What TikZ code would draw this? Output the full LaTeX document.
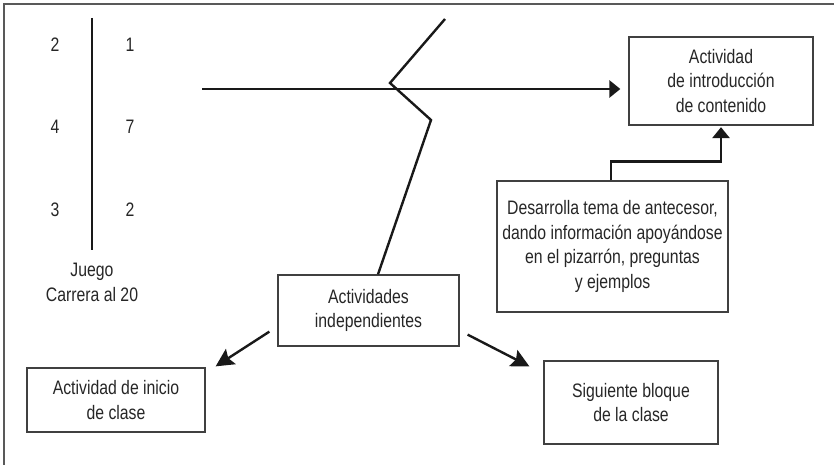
\documentclass[tikz,border=0pt]{standalone}
\usepackage{fontspec}
\setmainfont[FakeStretch=0.81]{Liberation Sans}
\usepackage{tikz}
\usetikzlibrary{positioning,calc}
\usetikzlibrary{arrows.meta}

\tikzset{
  txt/.style={font=\fontsize{19.5}{24.5}\selectfont, text=black!85, align=center},
  box/.style={txt, draw=black!75, line width=1.3pt, inner sep=0pt},
  heavy/.style={line width=2.8pt, draw=black!90},
  tip/.style={-{Triangle[length=11pt,width=17pt]}},
  slant/.style={-{Stealth[length=18pt,width=18pt,inset=3pt]}},
}

\begin{document}
\begin{tikzpicture}[x=1pt,y=-1pt]
  % Parameters
  \def\W{834}       % page width
  \def\H{465}       % page height
  \def\bx{92}       % x of the bar of the game
  \def\lx{55}       % left column of numbers
  \def\rx{130}      % right column of numbers

  \useasboundingbox (0,0) rectangle (\W,\H);

  % Frame (top and left only)
  \draw[black!65, line width=1.5pt] (\W,4) -- (4,4) -- (4,\H);

  % Game: Carrera al 20
  \coordinate (bartop) at (\bx,18);
  \coordinate (barbot) at (\bx,250);
  \draw[heavy] (bartop) -- (barbot);
  \node[txt] (a1) at (\lx,45)  {2};
  \node[txt] (a2) at (\lx,127) {4};
  \node[txt] (a3) at (\lx,210) {3};
  \node[txt] (b1) at (\rx,45)  {1};
  \node[txt] (b2) at (\rx,127) {7};
  \node[txt] (b3) at (\rx,210) {2};
  \node[txt] (juego) at (\bx,282.5) {Juego\\Carrera al 20};

  % Boxes
  \node[box, minimum width=184pt, minimum height=88pt] (intro) at (721,81)
    {Actividad\\de introducción\\de contenido};
  \node[box, minimum width=231pt, minimum height=131pt] (desarrolla) at (612.5,246.5)
    {Desarrolla tema de antecesor,\\dando información apoyándose\\en el pizarrón, preguntas\\y ejemplos};
  \node[box, minimum width=181pt, minimum height=71pt] (indep) at (368.5,310.5)
    {Actividades\\independientes};
  \node[box, minimum width=178pt, minimum height=64pt] (inicio) at (116,400)
    {Actividad de inicio\\de clase};
  \node[box, minimum width=174pt, minimum height=83pt] (siguiente) at (631,402.5)
    {Siguiente bloque\\de la clase};

  % Long arrow to the introduction
  \coordinate (hstart) at (202,89);
  \draw[heavy, tip, shorten >=8pt] (hstart) -- (hstart -| intro.west);

  % Zigzag line
  \coordinate (z1) at (445,19);
  \coordinate (z2) at (390,83);
  \coordinate (z3) at (431,120);
  \draw[line width=2.4pt, black!90] (z1) -- (z2) -- (z3) -- ([xshift=9.5pt]indep.north);

  % From the development box up to the introduction
  \draw[heavy, tip, shorten >=1.5pt]
    ([xshift=-1.5pt]desarrolla.north) -- ++(0,-19) -| (intro.south);

  % Diagonal arrows
  \draw[line width=2.4pt, black!90, slant]
    ([xshift=-8pt,yshift=15pt]indep.south west) -- ([xshift=10pt,yshift=1pt]inicio.north east);
  \draw[line width=2.4pt, black!90, slant]
    ([xshift=8pt,yshift=12pt]indep.south east) -- ([xshift=-14pt,yshift=-6pt]siguiente.north west);

\end{tikzpicture}
\end{document}
